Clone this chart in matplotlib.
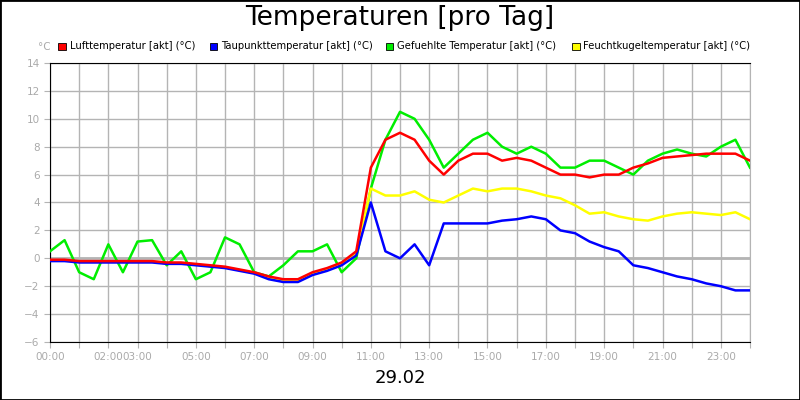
"""Temperaturen pro Tag (29.02): Luft-, Taupunkt-, gefühlte und Feuchtkugeltemperatur."""
import matplotlib
matplotlib.use("Agg")
import matplotlib.pyplot as plt
from matplotlib.patches import Rectangle
import numpy as np

HOURS = np.arange(0, 24.01, 0.5)
LUFT = [-0.1, -0.1, -0.2, -0.2, -0.2, -0.2, -0.2, -0.2, -0.3, -0.3, -0.4, -0.5, -0.6, -0.8, -1.0,
        -1.3, -1.5, -1.5, -1.0, -0.7, -0.3, 0.5, 6.5, 8.5, 9.0, 8.5, 7.0, 6.0, 7.0, 7.5, 7.5, 7.0,
        7.2, 7.0, 6.5, 6.0, 6.0, 5.8, 6.0, 6.0, 6.5, 6.8, 7.2, 7.3, 7.4, 7.5, 7.5, 7.5, 7.0]
TAUPUNKT = [-0.2, -0.2, -0.3, -0.3, -0.3, -0.3, -0.3, -0.3, -0.4, -0.4, -0.5, -0.6, -0.7, -0.9, -1.1,
            -1.5, -1.7, -1.7, -1.2, -0.9, -0.5, 0.2, 4.0, 0.5, 0.0, 1.0, -0.5, 2.5, 2.5, 2.5, 2.5, 2.7,
            2.8, 3.0, 2.8, 2.0, 1.8, 1.2, 0.8, 0.5, -0.5, -0.7, -1.0, -1.3, -1.5, -1.8, -2.0, -2.3, -2.3]
GEFUEHLT = [0.5, 1.3, -1.0, -1.5, 1.0, -1.0, 1.2, 1.3, -0.5, 0.5, -1.5, -1.0, 1.5, 1.0, -1.0, -1.3,
            -0.5, 0.5, 0.5, 1.0, -1.0, 0.0, 5.0, 8.5, 10.5, 10.0, 8.5, 6.5, 7.5, 8.5, 9.0, 8.0, 7.5,
            8.0, 7.5, 6.5, 6.5, 7.0, 7.0, 6.5, 6.0, 7.0, 7.5, 7.8, 7.5, 7.3, 8.0, 8.5, 6.5]
FEUCHT = [-0.15, -0.15, -0.25, -0.25, -0.25, -0.25, -0.25, -0.25, -0.35, -0.35, -0.45, -0.55, -0.65,
          -0.85, -1.05, -1.4, -1.6, -1.6, -1.1, -0.8, -0.4, 0.3, 5.0, 4.5, 4.5, 4.8, 4.2, 4.0, 4.5,
          5.0, 4.8, 5.0, 5.0, 4.8, 4.5, 4.3, 3.8, 3.2, 3.3, 3.0, 2.8, 2.7, 3.0, 3.2, 3.3, 3.2, 3.1,
          3.3, 2.8]
SERIES = [("Lufttemperatur [akt] (°C)", LUFT, "#ff0000"),
          ("Taupunkttemperatur [akt] (°C)", TAUPUNKT, "#0000ff"),
          ("Gefuehlte Temperatur [akt] (°C)", GEFUEHLT, "#00ee00"),
          ("Feuchtkugeltemperatur [akt] (°C)", FEUCHT, "#ffff00")]
TICK_LABELS = {0: "00:00", 2: "02:00", 3: "03:00", 5: "05:00", 7: "07:00", 9: "09:00", 11: "11:00",
               13: "13:00", 15: "15:00", 17: "17:00", 19: "19:00", 21: "21:00", 23: "23:00"}
GRAY = "#b4b4b4"


def main() -> None:
    fig = plt.figure(figsize=(8, 4), dpi=100)
    fig.patches.append(Rectangle((0, 0), 1, 1, transform=fig.transFigure, fill=False,
                                 edgecolor="black", linewidth=2))
    ax = fig.add_axes([0.0625, 0.145, 0.875, 0.6975])

    # zuerst gruen, dann gelb, blau, rot oben
    for idx in (2, 3, 1, 0):
        name, vals, col = SERIES[idx]
        ax.plot(HOURS, vals, color=col, linewidth=1.8, zorder=3)

    ax.set_xlim(0, 24)
    ax.set_ylim(-6, 14)
    ax.set_xticks(range(25))
    ax.set_xticklabels([TICK_LABELS.get(h, "") for h in range(25)])
    ax.set_yticks(range(-6, 15, 2))
    ax.grid(color=GRAY, linewidth=1)
    ax.axhline(0, color=GRAY, linewidth=2, zorder=1)
    ax.tick_params(colors=GRAY, labelcolor="#aaaaaa", labelsize=7.5, length=4)
    for side in ("top", "left", "bottom"):
        ax.spines[side].set_color("black")
    ax.spines["right"].set_color(GRAY)

    fig.text(0.5, 0.955, "Temperaturen [pro Tag]", ha="center", va="center", fontsize=19)
    fig.text(0.5, 0.055, "29.02", ha="center", va="center", fontsize=13)
    fig.text(0.047, 0.882, "°C", ha="left", va="center", fontsize=7.5, color="#aaaaaa")
    xs = [0.073, 0.262, 0.482, 0.715]
    for x, (name, _, col) in zip(xs, SERIES):
        fig.patches.append(Rectangle((x, 0.874), 0.0095, 0.019, transform=fig.transFigure,
                                     facecolor=col, edgecolor="black", linewidth=0.6))
        fig.text(x + 0.014, 0.884, name, ha="left", va="center", fontsize=7.2)

    fig.savefig("out.png", dpi=100)
    plt.close(fig)


if __name__ == "__main__":
    main()
